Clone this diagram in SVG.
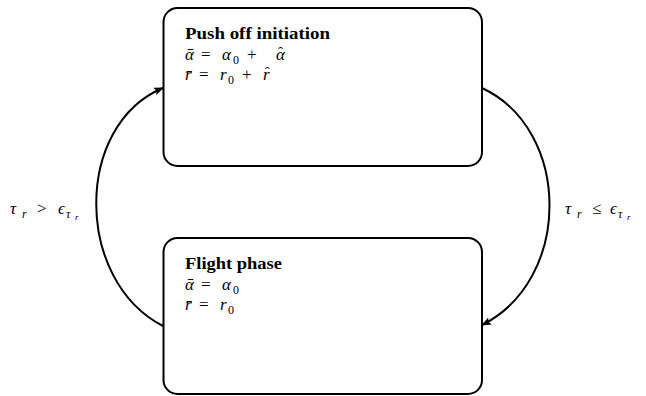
<svg xmlns="http://www.w3.org/2000/svg" width="646" height="396" viewBox="0 0 646 396">
<style>
.box{fill:#fff;stroke:#000;stroke-width:2}
.edge{fill:none;stroke:#000;stroke-width:2;marker-end:url(#ah)}
</style>
<defs>
<marker id="ah" viewBox="0 0 10 8" refX="9" refY="4" markerWidth="11" markerHeight="8" markerUnits="userSpaceOnUse" orient="auto">
<path d="M0,0 L10,4 L0,8 L2,4 Z" fill="#000"/>
</marker>
</defs>
<g id="push">
<rect class="box" x="163.5" y="8" width="318.5" height="158" rx="14"/>
<text font-family="'Liberation Serif', serif" font-weight="bold" font-size="17" x="185" y="39" textLength="145" lengthAdjust="spacingAndGlyphs">Push off initiation</text>
<text font-family="'Liberation Serif', serif" font-style="italic" font-size="17" x="185" y="60">ᾱ</text>
<text font-family="'Liberation Serif', serif" font-size="17" x="201" y="60">=</text>
<text font-family="'Liberation Serif', serif" font-style="italic" font-size="17" x="222" y="60">α</text>
<text font-family="'Liberation Serif', serif" font-size="12" x="233" y="64">0</text>
<text font-family="'Liberation Serif', serif" font-size="17" x="247" y="60">+</text>
<text font-family="'Liberation Serif', serif" font-style="italic" font-size="17" x="276" y="60">α<tspan font-style="normal" font-size="15" dx="-7" dy="-3">ˆ</tspan></text>
<text font-family="'Liberation Serif', serif" font-style="italic" font-size="17" x="185" y="80">r̄</text>
<text font-family="'Liberation Serif', serif" font-size="17" x="199" y="80">=</text>
<text font-family="'Liberation Serif', serif" font-style="italic" font-size="17" x="220" y="80">r</text>
<text font-family="'Liberation Serif', serif" font-size="12" x="228" y="84">0</text>
<text font-family="'Liberation Serif', serif" font-size="17" x="242" y="80">+</text>
<text font-family="'Liberation Serif', serif" font-style="italic" font-size="17" x="263" y="80">r<tspan font-style="normal" font-size="15" dx="-5" dy="-3">ˆ</tspan></text>
</g>
<g id="flight">
<rect class="box" x="163.5" y="238" width="318.5" height="156" rx="14"/>
<text font-family="'Liberation Serif', serif" font-weight="bold" font-size="17" x="185" y="269" textLength="97" lengthAdjust="spacingAndGlyphs">Flight phase</text>
<text font-family="'Liberation Serif', serif" font-style="italic" font-size="17" x="185" y="290">ᾱ</text>
<text font-family="'Liberation Serif', serif" font-size="17" x="201" y="290">=</text>
<text font-family="'Liberation Serif', serif" font-style="italic" font-size="17" x="222" y="290">α</text>
<text font-family="'Liberation Serif', serif" font-size="12" x="233" y="294">0</text>
<text font-family="'Liberation Serif', serif" font-style="italic" font-size="17" x="185" y="310">r̄</text>
<text font-family="'Liberation Serif', serif" font-size="17" x="199" y="310">=</text>
<text font-family="'Liberation Serif', serif" font-style="italic" font-size="17" x="220" y="310">r</text>
<text font-family="'Liberation Serif', serif" font-size="12" x="228" y="314">0</text>
</g>
<g id="connectors">
<path class="edge" d="M163,326 C74,280 74,125 163,88"/>
<path class="edge" d="M482,88 C572,130 572,280 482,325"/>
<g id="label-left">
<text font-family="'Liberation Serif', serif" font-style="italic" font-size="17" x="10" y="214">τ</text>
<text font-family="'Liberation Serif', serif" font-style="italic" font-size="12" x="22" y="218">r</text>
<text font-family="'Liberation Serif', serif" font-size="17" x="37" y="214">&gt;</text>
<text font-family="'Liberation Serif', serif" font-style="italic" font-size="17" x="58" y="214">ϵ</text>
<text font-family="'Liberation Serif', serif" font-style="italic" font-size="12" x="66" y="218">τ</text>
<text font-family="'Liberation Serif', serif" font-style="italic" font-size="9" x="75" y="220">r</text>
</g>
<g id="label-right">
<text font-family="'Liberation Serif', serif" font-style="italic" font-size="17" x="565" y="214">τ</text>
<text font-family="'Liberation Serif', serif" font-style="italic" font-size="12" x="577" y="218">r</text>
<text font-family="'Liberation Serif', serif" font-size="17" x="592" y="214">≤</text>
<text font-family="'Liberation Serif', serif" font-style="italic" font-size="17" x="610" y="214">ϵ</text>
<text font-family="'Liberation Serif', serif" font-style="italic" font-size="12" x="618" y="218">τ</text>
<text font-family="'Liberation Serif', serif" font-style="italic" font-size="9" x="627" y="220">r</text>
</g>
</g>
</svg>
